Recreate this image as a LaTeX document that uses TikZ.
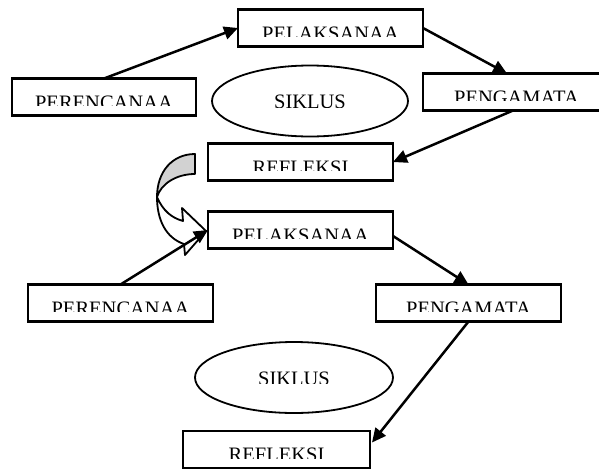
\documentclass[tikz,border=0pt]{standalone}
\usepackage{fontspec}
\setmainfont{Liberation Serif}
\usetikzlibrary{arrows.meta,shapes.geometric}
\newcommand\lblfont{\fontsize{20.5pt}{24pt}\selectfont}
\begin{document}
\begin{tikzpicture}[x=1pt,y=-1pt,
  box/.style 2 args={draw, line width=2.3pt, rectangle, minimum width=#1, minimum height=37pt,
    inner sep=0pt, outer sep=0pt,
    path picture={
      \clip ([yshift=10pt]path picture bounding box.south west) rectangle (path picture bounding box.north east);
      \node[anchor=base, inner sep=0pt, font=\lblfont] at ([yshift=-12pt]path picture bounding box.center) {#2};}},
  ell/.style 2 args={draw, ellipse, line width=1.8pt, minimum width=#1, minimum height=71pt,
    inner sep=0pt, outer sep=0pt,
    path picture={
      \clip ([yshift=-6pt]path picture bounding box.west) rectangle (path picture bounding box.north east);
      \node[anchor=base, inner sep=0pt, font=\lblfont] at ([yshift=-7.5pt]path picture bounding box.center) {#2};}},
  arr/.style={line width=2.5pt, -{Triangle[length=14pt,width=13pt]}},
  curv/.style={line width=1.8pt, line join=round}
]
\useasboundingbox (0,0) rectangle (599,469);

% curved block arrow
\draw[curv, fill=gray!35] (195,154) -- (195,174) .. controls (176,174) and (161,184) .. (157,197)
  .. controls (157,172) and (172,154) .. (195,154) -- cycle;
\draw[curv, fill=white] (157,197) .. controls (163,211) and (172,218) .. (183,221) -- (182,208) -- (206,231)
  -- (185,255) -- (184,244) .. controls (166,238) and (157,220) .. (157,197) -- cycle;

% boxes
\node[box={185pt}{PELAKSANAA}] (P1) at (330.5,28) {};
\node[box={184pt}{PERENCANAA}] (R1) at (104,97) {};
\node[ell={196pt}{SIKLUS}] (E1) at (310,101) {};
\node[box={187pt}{PENGAMATA}] (G1) at (516.5,92) {};
\node[box={185pt}{REFLEKSI}] (F1) at (300.5,162) {};
\node[box={185pt}{PELAKSANAA}] (P2) at (300.5,230) {};
\node[box={185pt}{PERENCANAA}] (R2) at (120.5,303) {};
\node[box={185pt}{PENGAMATA}] (G2) at (468.5,303) {};
\node[ell={198pt}{SIKLUS}] (E2) at (294,377.5) {};
\node[box={187pt}{REFLEKSI}] (F2) at (276.5,449.5) {};

% connectors
\draw[arr] (R1.north) -- (P1.west);
\draw[arr] (P1.east) -- ([xshift=-9.5pt]G1.north);
\draw[arr] ([xshift=-3.5pt]G1.south) -- (F1.east);
\draw[arr] (R2.north) -- (P2.west);
\draw[arr] ([yshift=-6pt]P2.east) -- (G2.north);
\draw[arr] (G2.south) -- ([yshift=7pt,xshift=2pt]F2.east);
\end{tikzpicture}
\end{document}
